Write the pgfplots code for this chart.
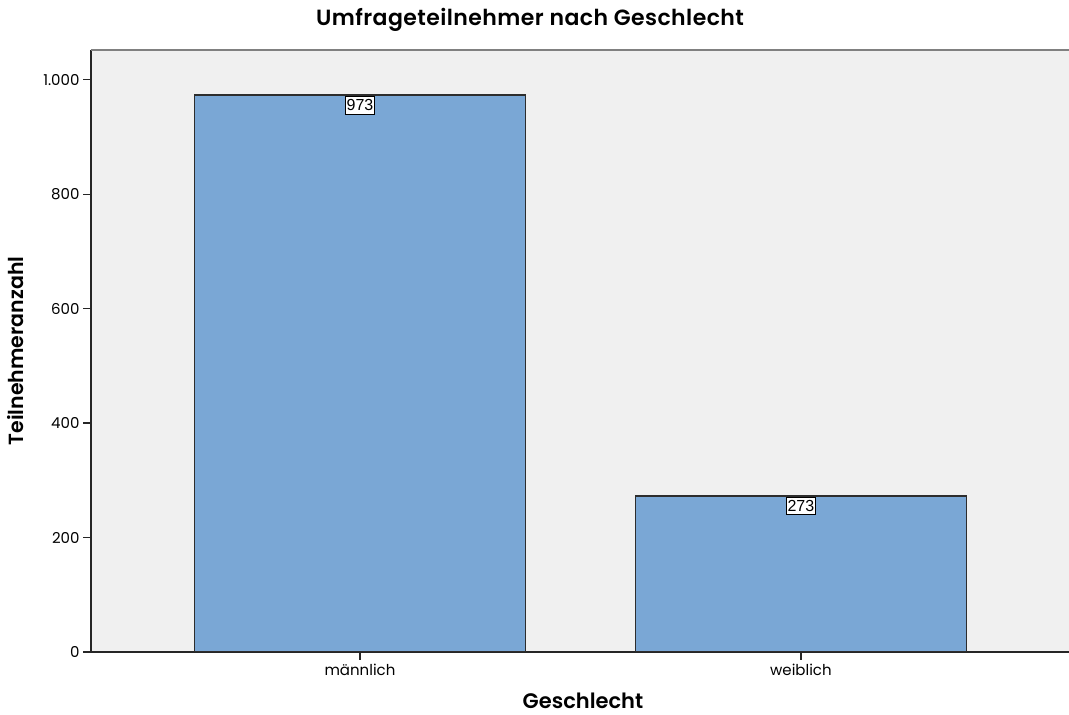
\documentclass[border=0pt]{standalone}
\usepackage{fontspec}
\setmainfont{Poppins}
\newfontfamily\titlefont{Poppins SemiBold}
\newfontfamily\valuefont{Liberation Sans}
\usepackage{pgfplots}
\pgfplotsset{compat=1.18}

\definecolor{barfill}{RGB}{122,167,213}
\definecolor{barline}{RGB}{45,45,45}
\definecolor{plotbg}{RGB}{240,240,240}

\begin{document}
\begin{tikzpicture}
\useasboundingbox (0,0) rectangle (1069pt,715pt);
\begin{axis}[
  at={(91pt,63pt)}, anchor=south west,
  scale only axis, width=978pt, height=602pt,
  xmin=-0.61, xmax=1.608, ymin=0, ymax=1052,
  axis background/.style={fill=plotbg},
  axis x line*=bottom, axis y line*=left,
  axis line style={-, line width=1.5pt, draw=black!85},
  ybar, bar width=331pt,
  xtick={0,1}, xticklabels={männlich,weiblich},
  ytick={0,200,400,600,800,1000},
  tick align=outside, major tick length=8pt,
  tick style={line width=1.2pt, black!85},
  /pgf/number format/.cd, use comma, 1000 sep={.}, assume math mode=true,
  /pgfplots/.cd,
  tick label style={font=\fontsize{15}{18}\selectfont},
  xticklabel style={yshift=-1pt},
  title={Umfrageteilnehmer nach Geschlecht},
  title style={font=\titlefont\fontsize{22}{26}\selectfont\addfontfeature{LetterSpace=2}, at={(0.5,1)}, anchor=base, xshift=-50pt, yshift=18pt},
  xlabel={Geschlecht},
  xlabel style={font=\titlefont\fontsize{21}{25}\selectfont, at={(rel axis cs:0.5,0)}, anchor=base, xshift=3pt, yshift=-57pt},
  ylabel={Teilnehmeranzahl},
  ylabel style={font=\titlefont\fontsize{20.5}{24}\selectfont, at={(rel axis cs:0,0.5)}, anchor=center, rotate=0, yshift=75pt},
  nodes near coords,
  every node near coord/.append style={anchor=north, yshift=-1pt, fill=white, draw=black, line width=0.8pt, inner xsep=1pt, inner ysep=3pt, font=\valuefont\fontsize{16}{18}\selectfont},
]
\addplot[fill=barfill, draw=barline, line width=1.8pt] coordinates {(0,973) (1,273)};
\draw[line width=2.5pt, black!50] (rel axis cs:0,1) -- (rel axis cs:1,1);
\end{axis}
\end{tikzpicture}
\end{document}
